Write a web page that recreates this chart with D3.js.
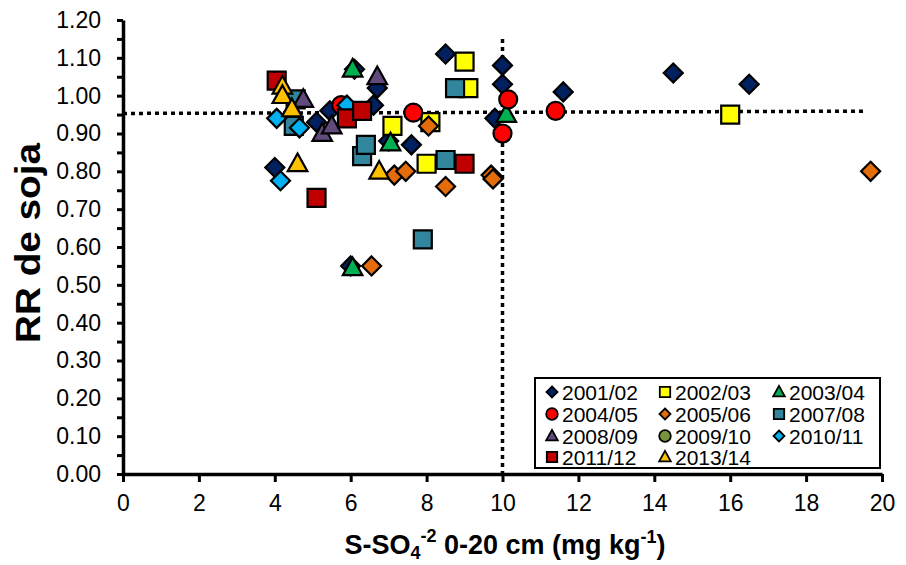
<!DOCTYPE html>
<html>
<head>
<meta charset="utf-8">
<script src="https://cdnjs.cloudflare.com/ajax/libs/d3/7.8.5/d3.min.js"></script>
<style>
  body { margin: 0; background: #fff; }
  svg { display: block; font-family: 'Liberation Sans', Arial, sans-serif; }
</style>
</head>
<body>
<div id="chart"></div>
<script>
// seasons and their [S-SO4 (mg/kg), RR] points
var seasons = ['2001/02', '2002/03', '2003/04', '2004/05', '2005/06', '2007/08',
  '2008/09', '2009/10', '2010/11', '2011/12', '2013/14'];

var s0102 = [[4.0, 0.81], [5.1, 0.93], [5.45, 0.96], [6.1, 1.07], [6.6, 0.975], [6.7, 1.02],
  [6.0, 0.55], [7.0, 0.88], [7.6, 0.87], [8.5, 1.11], [9.8, 0.94], [10.0, 1.08],
  [10.0, 1.03], [11.6, 1.01], [14.5, 1.06], [16.5, 1.03]];
var s0203 = [[7.1, 0.92], [8.1, 0.93], [8.0, 0.82], [9.0, 1.09], [9.1, 1.02], [16.0, 0.95]];
var s0304 = [[6.05, 1.07], [7.05, 0.875], [10.1, 0.95], [6.05, 0.545]];
var s0405 = [[5.75, 0.975], [7.65, 0.955], [10.15, 0.99], [10.0, 0.90], [11.4, 0.96]];
var s0506 = [[6.55, 0.55], [7.15, 0.79], [7.45, 0.80], [8.05, 0.92], [8.5, 0.76],
  [9.7, 0.79], [9.75, 0.78], [19.7, 0.80]];
var s0708 = [[4.55, 0.99], [4.5, 0.92], [6.3, 0.84], [6.4, 0.87], [7.9, 0.62], [8.5, 0.83], [8.75, 1.02]];
var s0809 = [[4.75, 0.99], [5.25, 0.90], [5.5, 0.92], [6.7, 1.05]];
var s0910 = []; // no point visible in the figure
var s1011 = [[4.05, 0.94], [4.65, 0.915], [4.15, 0.775], [5.9, 0.975]];
var s1112 = [[4.05, 1.04], [5.9, 0.94], [6.3, 0.96], [5.1, 0.73], [9.0, 0.82]];
var s1314 = [[4.2, 1.025], [4.2, 1.0], [4.45, 0.965], [4.6, 0.82], [6.75, 0.80]];

var seriesData = [s0102, s0203, s0304, s0405, s0506, s0708, s0809, s0910, s1011, s1112, s1314];

// reference lines
var hLine = [[0, 0.953], [19.55, 0.959]];
var vLine = [[10, 1.15], [10, 0]];

var xTicks = d3.range(0, 21, 2);
var yTicks = d3.range(0, 1.21, 0.1);
var yMinor = d3.range(0.05, 1.2, 0.1);

// styles
var colors = ['#002060', '#FFFF00', '#00B050', '#FF0000', '#E46C0A', '#31859C',
  '#604A7B', '#77933C', '#00B0F0', '#C00000', '#FFC000'];
var shapes = ['diamond', 'square', 'triangle', 'circle', 'diamond', 'square',
  'triangle', 'circle', 'diamond', 'square', 'triangle'];

var W = 906, H = 565;
var x = d3.scaleLinear().domain([0, 20]).range([123, 882]);
var y = d3.scaleLinear().domain([0, 1.2]).range([474, 20]);

var svg = d3.select('#chart').append('svg')
  .attr('width', W).attr('height', H);

function markerPath(shape, r) {
  if (shape === 'diamond') return 'M0,' + (-r) + 'L' + r + ',0L0,' + r + 'L' + (-r) + ',0Z';
  if (shape === 'square') return 'M' + (-r) + ',' + (-r) + 'h' + (2 * r) + 'v' + (2 * r) + 'h' + (-2 * r) + 'Z';
  if (shape === 'triangle') return 'M0,' + (-r * 1.05) + 'L' + r + ',' + (r * 0.75) + 'L' + (-r) + ',' + (r * 0.75) + 'Z';
  return d3.arc()({ innerRadius: 0, outerRadius: r, startAngle: 0, endAngle: 2 * Math.PI });
}
var bigR = { diamond: 9.5, square: 9, triangle: 9.8, circle: 9 };
var smallR = { diamond: 5.5, square: 5.2, triangle: 5.8, circle: 5.8 };

// axes
svg.append('g').attr('transform', 'translate(' + x(0) + ',0)')
  .call(d3.axisLeft(y).tickValues(yTicks).tickFormat(d3.format('.2f'))
    .tickSize(6).tickSizeOuter(0).tickPadding(16));
svg.append('g').attr('transform', 'translate(' + x(0) + ',0)')
  .call(d3.axisLeft(y).tickValues(yMinor).tickFormat('').tickSize(6).tickSizeOuter(0))
  .select('.domain').remove();

svg.append('g').attr('transform', 'translate(0,' + y(0) + ')')
  .call(d3.axisBottom(x).tickValues(xTicks).tickFormat(d3.format('d'))
    .tickSize(8).tickSizeOuter(0).tickPadding(13));

svg.selectAll('.domain').attr('stroke', '#000').attr('stroke-width', 3.5);
svg.selectAll('.tick line').attr('stroke', '#000').attr('stroke-width', 3);
svg.selectAll('.tick text')
  .attr('font-family', "'Liberation Sans', Arial, sans-serif")
  .attr('font-size', 23).attr('fill', '#000');

// dotted reference lines
var line = d3.line().x(function (d) { return x(d[0]); }).y(function (d) { return y(d[1]); });
[hLine, vLine].forEach(function (l) {
  svg.append('path').attr('d', line(l))
    .attr('fill', 'none').attr('stroke', '#000')
    .attr('stroke-width', 3.5).attr('stroke-dasharray', '4,4');
});

// points, series drawn in order
seriesData.forEach(function (pts, i) {
  svg.append('g').selectAll('path')
    .data(pts)
    .enter()
    .append('path')
      .attr('transform', function (d) { return 'translate(' + x(d[0]) + ',' + y(d[1]) + ')'; })
      .attr('d', markerPath(shapes[i], bigR[shapes[i]]))
      .attr('fill', colors[i])
      .attr('stroke', '#000')
      .attr('stroke-width', 2.2);
});

// axis titles
svg.append('text')
  .attr('transform', 'translate(40,243) rotate(-90)')
  .attr('text-anchor', 'middle')
  .attr('font-weight', 'bold').attr('font-size', 35)
  .attr('textLength', 200).attr('lengthAdjust', 'spacingAndGlyphs')
  .text('RR de soja');

var xt = svg.append('text')
  .attr('x', 505).attr('y', 554)
  .attr('text-anchor', 'middle')
  .attr('font-weight', 'bold').attr('font-size', 27);
xt.append('tspan').text('S-SO');
xt.append('tspan').attr('font-size', 18).attr('dy', 5).text('4');
xt.append('tspan').attr('font-size', 18).attr('dy', -17).text('-2');
xt.append('tspan').attr('dy', 12).text(' 0-20 cm (mg kg');
xt.append('tspan').attr('font-size', 18).attr('dy', -11).text('-1');
xt.append('tspan').attr('dy', 11).text(')');

// legend
var lg = svg.append('g');
lg.append('rect').attr('x', 535).attr('y', 378).attr('width', 345).attr('height', 90)
  .attr('fill', '#fff').attr('stroke', '#000').attr('stroke-width', 2);
var colX = [552, 665, 779];
var rowY = [392, 414, 436, 457];
seasons.forEach(function (s, i) {
  var cx = colX[i % 3], cy = rowY[Math.floor(i / 3)];
  lg.append('path')
    .attr('transform', 'translate(' + cx + ',' + cy + ')')
    .attr('d', markerPath(shapes[i], smallR[shapes[i]]))
    .attr('fill', colors[i]).attr('stroke', '#000').attr('stroke-width', 1.8);
  lg.append('text')
    .attr('x', cx + 10).attr('y', cy).attr('dy', '0.36em')
    .attr('font-size', 21)
    .text(s);
});
</script>
</body>
</html>
